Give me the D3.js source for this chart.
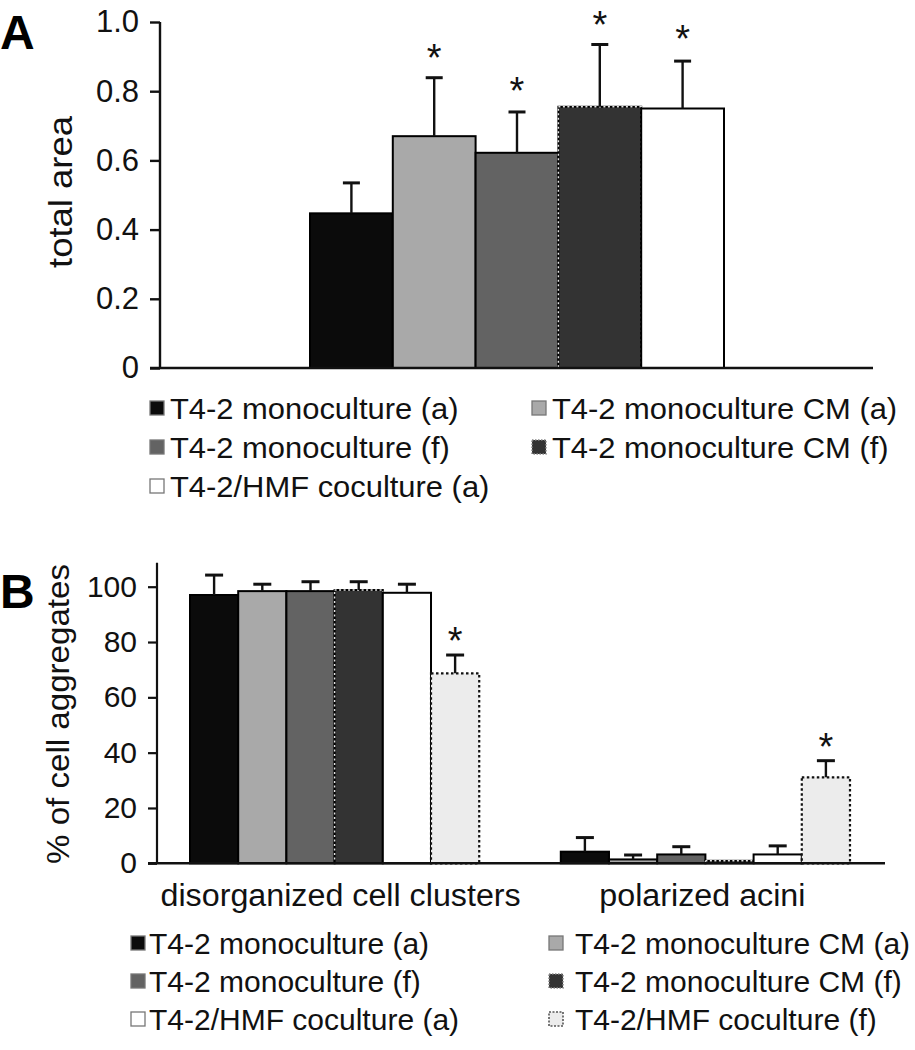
<!DOCTYPE html>
<html>
<head>
<meta charset="utf-8">
<script src="https://cdn.jsdelivr.net/npm/d3@7"></script>
<style>
  html, body { margin: 0; padding: 0; background: #fff; }
  svg { display: block; font-family: "Liberation Sans", Arial, Helvetica, sans-serif; }
</style>
</head>
<body>
<svg id="chart" width="915" height="1050"></svg>
<script>
// ---------------- DATA ----------------
// Panel A
const seriesA = ["T4-2 monoculture (a)", "T4-2 monoculture CM (a)", "T4-2 monoculture (f)", "T4-2 monoculture CM (f)", "T4-2/HMF coculture (a)"];
const valuesA = [0.447, 0.670, 0.622, 0.755, 0.750];
const errorsA = [0.088, 0.169, 0.118, 0.180, 0.137];
const starLevelA = [null, 0.915, 0.820, 1.012, 0.970];
const ticksA = [0, 0.2, 0.4, 0.6, 0.8, 1.0];
const tickLabelsA = ["0", "0.2", "0.4", "0.6", "0.8", "1.0"];

// Panel B
const categoriesB = ["disorganized cell clusters", "polarized acini"];
const seriesB = ["T4-2 monoculture (a)", "T4-2 monoculture CM (a)", "T4-2 monoculture (f)", "T4-2 monoculture CM (f)", "T4-2/HMF coculture (a)", "T4-2/HMF coculture (f)"];
const valuesClusters = [97.0, 98.4, 98.4, 98.8, 97.8, 68.7];
const errorsClusters = [7.2, 2.5, 3.4, 3.0, 3.1, 6.6];
const valuesAcini = [4.2, 1.4, 3.2, 0.9, 3.2, 31.1];
const errorsAcini = [5.1, 1.6, 2.8, 0.0, 3.1, 6.0];
const starLevelClusters = [null, null, null, null, null, 83.0];
const starLevelAcini = [null, null, null, null, null, 44.5];
const ticksB = [0, 20, 40, 60, 80, 100];

// ---------------- STYLES ----------------
const fills = {
  "T4-2 monoculture (a)": "#0b0b0b",
  "T4-2 monoculture CM (a)": "#a9a9a9",
  "T4-2 monoculture (f)": "#636363",
  "T4-2 monoculture CM (f)": "#333333",
  "T4-2/HMF coculture (a)": "#ffffff",
  "T4-2/HMF coculture (f)": "#ececec"
};
const dottedDark = "T4-2 monoculture CM (f)";
const dottedLight = "T4-2/HMF coculture (f)";

const svg = d3.select("#chart");

function stretch(sel, k) {
  sel.each(function () {
    const l = this.getComputedTextLength();
    d3.select(this).attr("textLength", l * k).attr("lengthAdjust", "spacingAndGlyphs");
  });
}

function drawBar(g, x, y, w, h, name) {
  const r = g.append("rect").attr("x", x).attr("y", y).attr("width", w).attr("height", h)
    .attr("fill", fills[name]);
  if (name === dottedLight) {
    r.attr("stroke", "#111").attr("stroke-width", 2.2).attr("stroke-dasharray", "2.5,2.5");
  } else {
    r.attr("stroke", "#000").attr("stroke-width", 2);
    if (name === dottedDark) {
      g.append("rect").attr("x", x).attr("y", y).attr("width", w).attr("height", h)
        .attr("fill", "none").attr("stroke", "#e6e6e6").attr("stroke-width", 1.4)
        .attr("stroke-dasharray", "2,2.5");
    }
  }
}

function drawErr(g, cx, yTop, yErr, cap) {
  if (yTop - yErr < 0.5) return;
  g.append("line").attr("x1", cx).attr("x2", cx).attr("y1", yTop).attr("y2", yErr)
    .attr("stroke", "#111").attr("stroke-width", 2.4);
  g.append("line").attr("x1", cx - cap / 2).attr("x2", cx + cap / 2).attr("y1", yErr).attr("y2", yErr)
    .attr("stroke", "#111").attr("stroke-width", 3);
}

function drawStar(g, cx, yc) {
  g.append("text").attr("x", cx).attr("y", yc + 20).attr("text-anchor", "middle")
    .attr("font-size", 38).attr("fill", "#111").text("*");
}

function legendSwatch(g, x, y, s, name) {
  const r = g.append("rect").attr("x", x).attr("y", y - s / 2).attr("width", s).attr("height", s)
    .attr("fill", fills[name]);
  if (name === dottedLight) {
    r.attr("stroke", "#555").attr("stroke-width", 1.6).attr("stroke-dasharray", "2,1.5");
  } else if (name === dottedDark) {
    r.attr("stroke", "#888").attr("stroke-width", 1.5).attr("stroke-dasharray", "1.5,1.5");
  } else {
    r.attr("stroke", "#777").attr("stroke-width", 1.3);
  }
}

// ---------------- PANEL A ----------------
const gA = svg.append("g");
const yA = d3.scaleLinear().domain([0, 1]).range([368, 22]);
const xA = d3.scaleBand().domain(seriesA).range([310, 724]).padding(0);
const axisXA = 160;

seriesA.forEach((s, i) => {
  drawBar(gA, xA(s), yA(valuesA[i]), xA.bandwidth(), yA(0) - yA(valuesA[i]), s);
});
seriesA.forEach((s, i) => {
  const cx = xA(s) + xA.bandwidth() / 2;
  drawErr(gA, cx, yA(valuesA[i]), yA(valuesA[i] + errorsA[i]), 17);
  if (starLevelA[i] != null) drawStar(gA, cx, yA(starLevelA[i]));
});

const axA = gA.append("g").attr("transform", `translate(${axisXA},0)`)
  .call(d3.axisLeft(yA).tickValues(ticksA).tickFormat((d, i) => tickLabelsA[i]).tickSize(10).tickPadding(11));
axA.select(".domain").attr("d", `M-0,${yA(1)}V${yA(0)}`).attr("stroke", "#111").attr("stroke-width", 2.4);
axA.selectAll(".tick line").attr("stroke", "#111").attr("stroke-width", 2.4);
axA.selectAll(".tick text").attr("font-size", 31).attr("fill", "#111").attr("font-family", "Liberation Sans, Arial, sans-serif");
gA.append("line").attr("x1", 150).attr("x2", 873).attr("y1", yA(0)).attr("y2", yA(0))
  .attr("stroke", "#111").attr("stroke-width", 2.6);

gA.append("text").attr("transform", `translate(72,${192}) rotate(-90)`).attr("text-anchor", "middle")
  .attr("font-size", 33).attr("fill", "#111").attr("textLength", 152).attr("lengthAdjust", "spacingAndGlyphs")
  .text("total area");

svg.append("text").attr("x", 0).attr("y", 49).attr("font-size", 48).attr("font-weight", "bold")
  .attr("fill", "#000").text("A");

// legend A
const legA = svg.append("g");
const legAPos = [[150, 408], [532, 408], [150, 447], [532, 447], [150, 486]];
seriesA.forEach((s, i) => {
  const [lx, ly] = legAPos[i];
  legendSwatch(legA, lx, ly, 14, s);
  const t = legA.append("text").attr("x", lx + 20).attr("y", ly + 11).attr("font-size", 30)
    .attr("fill", "#111").text(s);
  stretch(t, 1.03);
});

// ---------------- PANEL B ----------------
const gB = svg.append("g");
const yB = d3.scaleLinear().domain([0, 100]).range([863.3, 586.7]);
const x0B = d3.scaleBand().domain(categoriesB).range([190, 850]).paddingInner(0.22).paddingOuter(0);
const x1B = d3.scaleBand().domain(seriesB).range([0, x0B.bandwidth()]).padding(0);
const axisXB = 157;
const groupVals = [valuesClusters, valuesAcini];
const groupErrs = [errorsClusters, errorsAcini];
const groupStars = [starLevelClusters, starLevelAcini];

categoriesB.forEach((c, gi) => {
  const g = gB.append("g").attr("transform", `translate(${x0B(c)},0)`);
  seriesB.forEach((s, i) => {
    const v = groupVals[gi][i];
    drawBar(g, x1B(s), yB(v), x1B.bandwidth(), yB(0) - yB(v), s);
  });
  seriesB.forEach((s, i) => {
    const v = groupVals[gi][i];
    const cx = x1B(s) + x1B.bandwidth() / 2;
    drawErr(g, cx, yB(v), yB(v + groupErrs[gi][i]), 18);
    if (groupStars[gi][i] != null) drawStar(g, cx, yB(groupStars[gi][i]));
  });
});

const axB = gB.append("g").attr("transform", `translate(${axisXB},0)`)
  .call(d3.axisLeft(yB).tickValues(ticksB).tickSize(9).tickPadding(11));
axB.select(".domain").attr("d", `M-0,${yB(108.7)}V${yB(0)}`).attr("stroke", "#111").attr("stroke-width", 2.2);
axB.selectAll(".tick line").attr("stroke", "#111").attr("stroke-width", 2.2);
axB.selectAll(".tick text").attr("font-size", 30).attr("fill", "#111").attr("font-family", "Liberation Sans, Arial, sans-serif");
gB.append("line").attr("x1", 148).attr("x2", 885).attr("y1", yB(0)).attr("y2", yB(0))
  .attr("stroke", "#111").attr("stroke-width", 2.6);

categoriesB.forEach((c, gi) => {
  const t = gB.append("text").attr("x", x0B(c) + x0B.bandwidth() / 2 + (gi === 0 ? 6 : -3)).attr("y", 906)
    .attr("text-anchor", "middle").attr("font-size", 31).attr("fill", "#111").text(c);
  stretch(t, 1.04);
});

gB.append("text").attr("transform", `translate(69,${714}) rotate(-90)`).attr("text-anchor", "middle")
  .attr("font-size", 31).attr("fill", "#111").attr("textLength", 300).attr("lengthAdjust", "spacingAndGlyphs")
  .text("% of cell aggregates");

svg.append("text").attr("x", 0).attr("y", 608).attr("font-size", 48).attr("font-weight", "bold")
  .attr("fill", "#000").text("B");

// legend B
const legB = svg.append("g");
const legBPos = [[131, 943], [549, 943], [131, 981], [549, 981], [131, 1019], [549, 1019]];
seriesB.forEach((s, i) => {
  const [lx, ly] = legBPos[i];
  legendSwatch(legB, lx, ly, 14, s);
  const t = legB.append("text").attr("x", lx + (i % 2 ? 26 : 18)).attr("y", ly + 11).attr("font-size", 30)
    .attr("fill", "#111").text(s);
  stretch(t, 1.0);
});
</script>
</body>
</html>
